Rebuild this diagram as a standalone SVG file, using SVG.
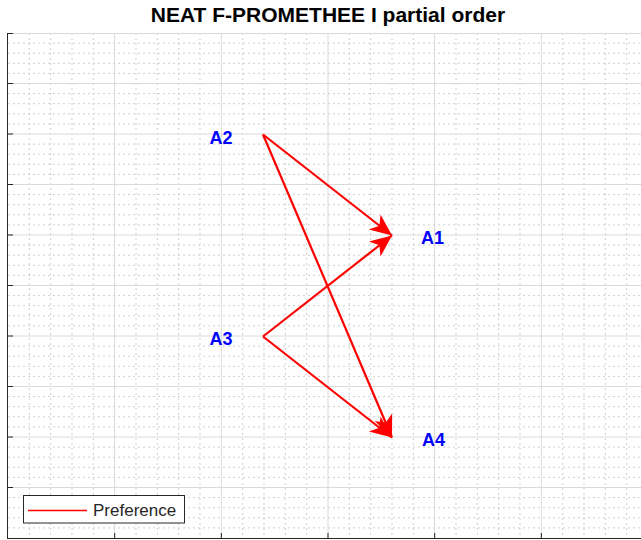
<svg xmlns="http://www.w3.org/2000/svg" width="641" height="540" viewBox="0 0 641 540">
<style>
  .minor { stroke: #cfcfcf; stroke-width: 1; stroke-dasharray: 2 3; fill: none; }
  .major { stroke: #dadada; stroke-width: 1; fill: none; }
  .axis { stroke: #262626; stroke-width: 1; fill: none; }
  .title { font-family: "Liberation Sans", Arial, sans-serif; font-weight: bold; font-size: 21px; fill: #000; text-anchor: middle; }
  .node { font-family: "Liberation Sans", Arial, sans-serif; font-weight: bold; font-size: 18px; fill: #0000ff; text-anchor: middle; }
  .edge { stroke: #ff0000; stroke-width: 2.2; fill: none; marker-end: url(#arrow); }
  .legtext { font-family: "Liberation Sans", Arial, sans-serif; font-size: 17px; fill: #262626; }
</style>
<defs>
  <marker id="arrow" markerUnits="userSpaceOnUse" viewBox="-24 -11 26 22" refX="0" refY="0" markerWidth="26" markerHeight="22" orient="auto">
    <path d="M0,0 L-22,-9.5 L-16,0 L-22,9.5 Z" fill="#ff0000"/>
  </marker>
</defs>
<rect x="0" y="0" width="641" height="540" fill="#ffffff"/>
<text class="title" x="328" y="22">NEAT F-PROMETHEE I partial order</text>
<g id="grid">
  <path class="minor" d="M29.33 33V538M50.67 33V538M72 33V538M93.33 33V538M136 33V538M157.33 33V538M178.67 33V538M200 33V538M242.67 33V538M264 33V538M285.33 33V538M306.67 33V538M349.33 33V538M370.67 33V538M392 33V538M413.33 33V538M456 33V538M477.33 33V538M498.67 33V538M520 33V538M562.67 33V538M584 33V538M605.33 33V538M626.67 33V538"/>
  <path class="minor" d="M8 43.1H641M8 53.2H641M8 63.3H641M8 73.4H641M8 93.6H641M8 103.7H641M8 113.8H641M8 123.9H641M8 144.1H641M8 154.2H641M8 164.3H641M8 174.4H641M8 194.6H641M8 204.7H641M8 214.8H641M8 224.9H641M8 245.1H641M8 255.2H641M8 265.3H641M8 275.4H641M8 295.6H641M8 305.7H641M8 315.8H641M8 325.9H641M8 346.1H641M8 356.2H641M8 366.3H641M8 376.4H641M8 396.6H641M8 406.7H641M8 416.8H641M8 426.9H641M8 447.1H641M8 457.2H641M8 467.3H641M8 477.4H641M8 497.6H641M8 507.7H641M8 517.8H641M8 527.9H641"/>
  <path class="major" d="M114.67 33V538M221.33 33V538M328 33V538M434.67 33V538M541.33 33V538"/>
  <path class="major" d="M8 33.5H641M8 83.5H641M8 134H641M8 184.5H641M8 235H641M8 285.5H641M8 336H641M8 386.5H641M8 437H641M8 487.5H641"/>
</g>
<g id="axes">
  <path class="axis" d="M7.5 33V538.5M7 538.5H641"/>
  <path class="axis" d="M8 33.5H13M8 83.5H13M8 134H13M8 184.5H13M8 235H13M8 285.5H13M8 336H13M8 386.5H13M8 437H13M8 487.5H13"/>
  <path class="axis" d="M114.67 538V533M221.33 538V533M328 538V533M434.67 538V533M541.33 538V533"/>
</g>
<g id="connectors">
  <line class="edge" x1="263" y1="134.5" x2="392" y2="235.5"/>
  <line class="edge" x1="263" y1="134.5" x2="392" y2="437.5"/>
  <line class="edge" x1="263" y1="336.5" x2="392" y2="235.5"/>
  <line class="edge" x1="263" y1="336.5" x2="392" y2="437.5"/>
</g>
<g id="A2"><text class="node" x="221" y="143.5">A2</text></g>
<g id="A1"><text class="node" x="432.5" y="243.5">A1</text></g>
<g id="A3"><text class="node" x="221" y="345">A3</text></g>
<g id="A4"><text class="node" x="433.5" y="446">A4</text></g>
<g id="legend">
  <rect x="23.5" y="495.5" width="161" height="27.5" fill="#ffffff" stroke="#262626" stroke-width="1"/>
  <line x1="28" y1="510.5" x2="87" y2="510.5" stroke="#ff0000" stroke-width="1.5"/>
  <text class="legtext" x="93" y="516">Preference</text>
</g>
</svg>
